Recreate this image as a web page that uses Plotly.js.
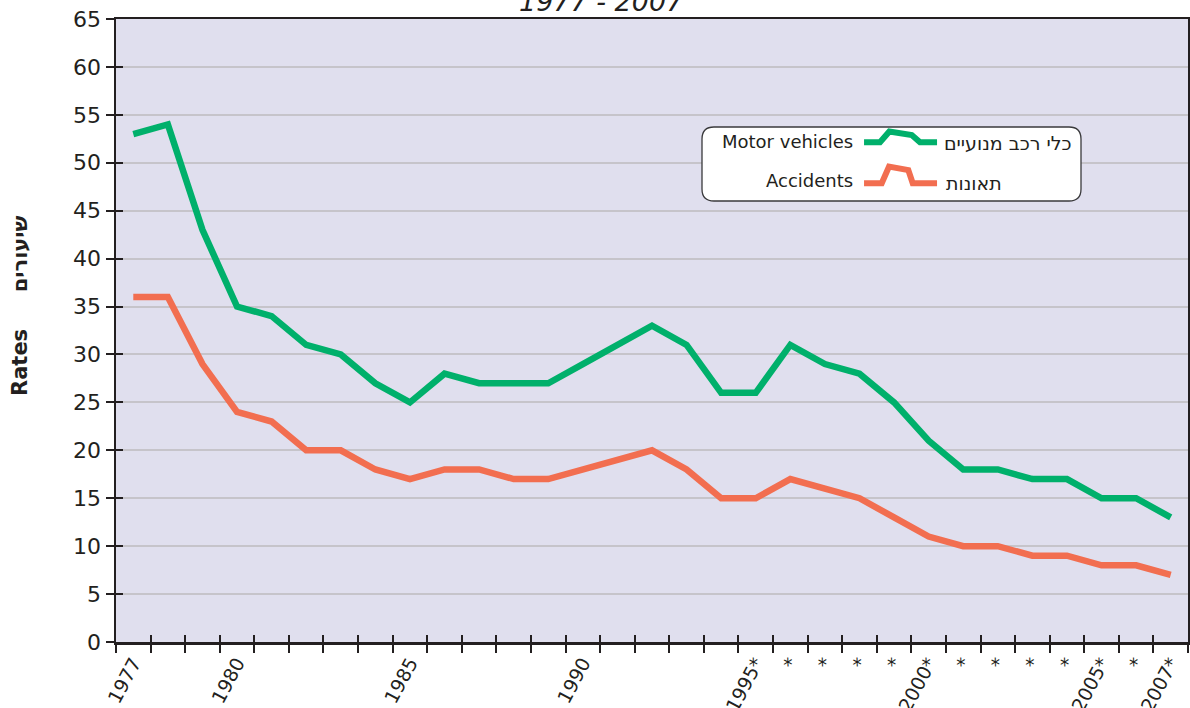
<!DOCTYPE html>
<html>
<head>
<meta charset="utf-8">
<script src="https://cdn.plot.ly/plotly-3.0.1.min.js"></script>
<style>html,body{margin:0;padding:0;background:#fff;}#chart{width:1190px;height:708px;}</style>
</head>
<body>
<div id="chart"></div>
<script>
const years = ["1977","1978","1979","1980","1981","1982","1983","1984","1985","1986","1987","1988","1989","1990","1991","1992","1993","1994","1995","1996","1997","1998","1999","2000","2001","2002","2003","2004","2005","2006","2007"];
const yearLabels = ["1977","","","1980","","","","","1985","","","","","1990","","","","","1995*","*","*","*","*","2000*","*","*","*","*","2005*","*","2007*"];
const motorVehicles = [53,54,43,35,34,31,30,27,25,28,27,27,27,29,31,33,31,26,26,31,29,28,25,21,18,18,17,17,15,15,13];
const accidents = [36,36,29,24,23,20,20,18,17,18,18,17,17,18,19,20,18,15,15,17,16,15,13,11,10,10,9,9,8,8,7];
const seriesNames = ["Motor vehicles","Accidents"];
const seriesNamesHe = ["כלי רכב מנועיים","תאונות"];
const titleText = "1977 - 2007";
const yTitle = "Rates     שיעורים";

const GREEN = "#00b06b", RED = "#f26e50", INK = "#231f20";
const FONT = "DejaVu Sans, Liberation Sans, Arial, sans-serif";

const traces = [
  {x: years, y: motorVehicles, type: "scatter", mode: "lines", name: seriesNames[0],
   line: {color: GREEN, width: 6.5}, showlegend: false, hoverinfo: "x+y"},
  {x: years, y: accidents, type: "scatter", mode: "lines", name: seriesNames[1],
   line: {color: RED, width: 6.5}, showlegend: false, hoverinfo: "x+y"},
  {x: years, y: accidents, type: "scatter", mode: "lines", xaxis: "x2", yaxis: "y2",
   line: {color: "rgba(0,0,0,0)", width: 0}, showlegend: false, hoverinfo: "skip"}
];

// paper-coordinate helpers for the legend box
function px(x){ return (x - 116) / 1072; }
function py(y){ return (642 - y) / 623; }
function path(pts){ return "M " + pts.map(p => px(p[0]).toFixed(4) + "," + py(p[1]).toFixed(4)).join(" L "); }
const bx0 = 702, bx1 = 1081, by0 = 127, by1 = 201, r = 12;
const boxPath = "M " + px(bx0 + r) + "," + py(by0) +
  " L " + px(bx1 - r) + "," + py(by0) +
  " Q " + px(bx1) + "," + py(by0) + " " + px(bx1) + "," + py(by0 + r) +
  " L " + px(bx1) + "," + py(by1 - r) +
  " Q " + px(bx1) + "," + py(by1) + " " + px(bx1 - r) + "," + py(by1) +
  " L " + px(bx0 + r) + "," + py(by1) +
  " Q " + px(bx0) + "," + py(by1) + " " + px(bx0) + "," + py(by1 - r) +
  " L " + px(bx0) + "," + py(by0 + r) +
  " Q " + px(bx0) + "," + py(by0) + " " + px(bx0 + r) + "," + py(by0) + " Z";

const shapes = [
  {type: "path", xref: "paper", yref: "paper", path: boxPath, fillcolor: "#ffffff", line: {color: "#3a3a3c", width: 1.3}, layer: "above"},
  {type: "path", xref: "paper", yref: "paper", layer: "above", line: {color: GREEN, width: 6},
   path: path([[864,142.3],[880,142.3],[889.3,131.5],[911.7,135],[920,142.3],[937,142.3]])},
  {type: "path", xref: "paper", yref: "paper", layer: "above", line: {color: RED, width: 6},
   path: path([[864,183.3],[881.7,183.3],[889,166.5],[908.3,170],[912.7,183.3],[937,183.3]])}
];

const annotations = [
  {text: seriesNames[0], xref: "paper", yref: "paper", x: px(855), y: py(141), xanchor: "right", yanchor: "middle", showarrow: false, font: {family: FONT, size: 18, color: INK}},
  {text: seriesNames[1], xref: "paper", yref: "paper", x: px(855), y: py(181), xanchor: "right", yanchor: "middle", showarrow: false, font: {family: FONT, size: 18, color: INK}},
  {text: seriesNamesHe[0], xref: "paper", yref: "paper", x: px(942), y: py(143), xanchor: "left", yanchor: "middle", showarrow: false, font: {family: FONT, size: 19, color: INK}},
  {text: seriesNamesHe[1], xref: "paper", yref: "paper", x: px(944), y: py(183), xanchor: "left", yanchor: "middle", showarrow: false, font: {family: FONT, size: 19, color: INK}},
  {text: "<b>" + yTitle + "</b>", xref: "paper", yref: "paper", x: px(20), y: py(306), xanchor: "center", yanchor: "middle", textangle: -90, showarrow: false, font: {family: FONT, size: 21, color: INK}},
  {text: "<i>" + titleText + "</i>", xref: "paper", yref: "paper", x: px(601), y: 1, yshift: 0, xanchor: "center", yanchor: "bottom", showarrow: false, font: {family: FONT, size: 27, color: INK}}
];

const layout = {
  width: 1190, height: 708,
  margin: {l: 116, r: 2, t: 19, b: 66},
  paper_bgcolor: "#ffffff",
  plot_bgcolor: "#e0dfee",
  showlegend: false,
  font: {family: FONT, color: INK},
  xaxis: {
    type: "category", categoryorder: "array", categoryarray: years,
    range: [-0.5, 30.5],
    tickmode: "array", tickvals: years, ticktext: yearLabels,
    tickson: "boundaries", ticks: "outside", ticklen: 8, tickwidth: 2, tickcolor: INK,
    tickangle: -62, tickfont: {family: FONT, size: 19, color: INK},
    showline: true, linecolor: INK, linewidth: 2.5, mirror: true,
    showgrid: false, zeroline: false
  },
  xaxis2: {
    type: "category", categoryorder: "array", categoryarray: years, overlaying: "x",
    range: [-0.5, 30.5], tickmode: "array", tickvals: years,
    tickson: "boundaries", ticks: "inside", ticklen: 7, tickwidth: 2, tickcolor: INK,
    showticklabels: false, showline: false, showgrid: false, zeroline: false
  },
  yaxis: {
    range: [0, 65], tickmode: "linear", tick0: 0, dtick: 5,
    ticks: "outside", ticklen: 8, tickwidth: 2, tickcolor: INK,
    tickfont: {family: FONT, size: 22, color: INK},
    showline: true, linecolor: INK, linewidth: 2.5, mirror: true,
    showgrid: true, gridcolor: "#c6c4ca", gridwidth: 2, zeroline: false
  },
  yaxis2: {
    range: [0, 65], overlaying: "y", tickmode: "linear", tick0: 0, dtick: 5,
    ticks: "inside", ticklen: 7, tickwidth: 2, tickcolor: INK,
    showticklabels: false, showline: false, showgrid: false, zeroline: false
  },
  shapes: shapes,
  annotations: annotations
};

Plotly.newPlot("chart", traces, layout, {displayModeBar: false, staticPlot: true});
</script>
</body>
</html>
